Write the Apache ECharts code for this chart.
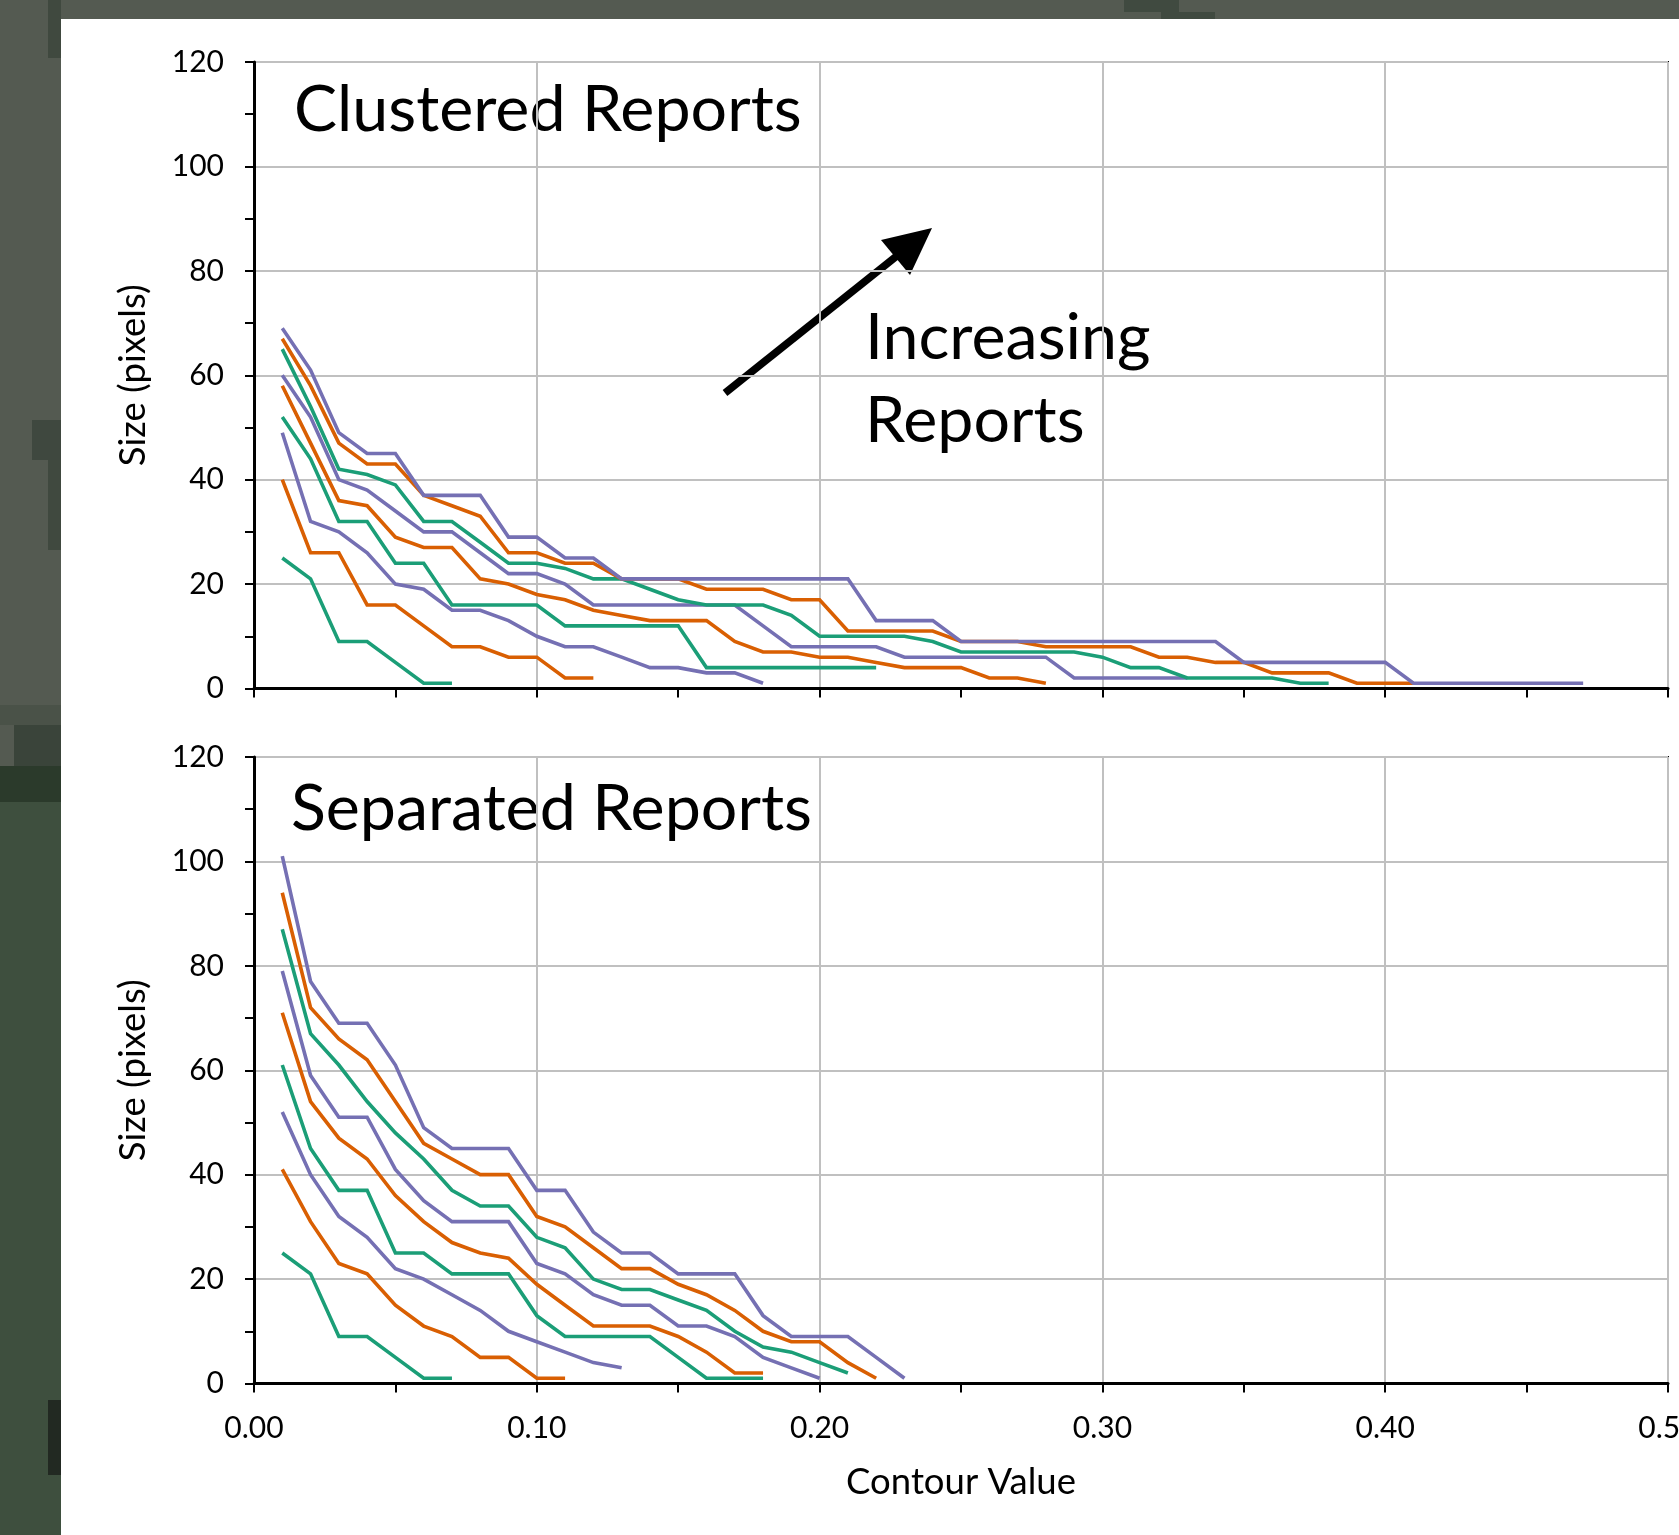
<!DOCTYPE html>
<html>
<head>
<meta charset="utf-8">
<script src="https://cdn.jsdelivr.net/npm/echarts@6/dist/echarts.min.js"></script>
<style>
  html, body { margin: 0; padding: 0; }
  body { width: 1679px; height: 1535px; overflow: hidden; background: #545a51; position: relative; }
  .bg { position: absolute; }
  #paper { position: absolute; left: 61px; top: 19px; right: 0; bottom: 0; background: #ffffff; }
  #chart { position: absolute; left: 0; top: 0; width: 1679px; height: 1535px; }
</style>
</head>
<body>
<div class="bg" style="left:0;top:766px;width:61px;height:36px;background:#2b3a2b;"></div>
<div class="bg" style="left:0;top:802px;width:61px;height:733px;background:#3e4f3e;"></div>
<div class="bg" style="left:32px;top:420px;width:29px;height:40px;background:#3f483f;"></div>
<div class="bg" style="left:48px;top:0;width:13px;height:58px;background:#40493f;"></div>
<div class="bg" style="left:48px;top:460px;width:13px;height:90px;background:#40493f;"></div>
<div class="bg" style="left:0;top:705px;width:61px;height:20px;background:#4a5248;"></div>
<div class="bg" style="left:14px;top:725px;width:47px;height:41px;background:#3a443a;"></div>
<div class="bg" style="left:48px;top:1400px;width:13px;height:75px;background:#222922;"></div>
<div class="bg" style="left:1124px;top:0;width:55px;height:12px;background:#404a40;"></div>
<div class="bg" style="left:1161px;top:12px;width:54px;height:8px;background:#404a40;"></div>
<div id="paper"></div>
<div id="chart"></div>
<script>
// ---- data ----
const CONTOUR = [0.01,0.02,0.03,0.04,0.05,0.06,0.07,0.08,0.09,0.10,
                 0.11,0.12,0.13,0.14,0.15,0.16,0.17,0.18,0.19,0.20,
                 0.21,0.22,0.23,0.24,0.25,0.26,0.27,0.28,0.29,0.30,
                 0.31,0.32,0.33,0.34,0.35,0.36,0.37,0.38,0.39,0.40,
                 0.41,0.42,0.43,0.44,0.45,0.46,0.47];

const X_TICK_LABELS = ['0.00','0.10','0.20','0.30','0.40','0.50'];
const Y_TICK_LABELS = ['0','20','40','60','80','100','120'];

// Clustered Reports
const clusteredGreen1  = [25,21,9,9,5,1,1];
const clusteredOrange1 = [40,26,26,16,16,12,8,8,6,6,2,2];
const clusteredPurple1 = [49,32,30,26,20,19,15,15,13,10,8,8,6,4,4,3,3,1];
const clusteredGreen2  = [52,44,32,32,24,24,16,16,16,16,12,12,12,12,12,4,4,4,4,4,4,4];
const clusteredOrange2 = [58,47,36,35,29,27,27,21,20,18,17,15,14,13,13,13,9,7,7,6,6,5,4,4,4,2,2,1];
const clusteredPurple2 = [60,52,40,38,34,30,30,26,22,22,20,16,16,16,16,16,16,12,8,8,8,8,6,6,6,6,6,6,2,2,2,2,2];
const clusteredGreen3  = [65,54,42,41,39,32,32,28,24,24,23,21,21,19,17,16,16,16,14,10,10,10,10,9,7,7,7,7,7,6,4,4,2,2,2,2,1,1];
const clusteredOrange3 = [67,58,47,43,43,37,35,33,26,26,24,24,21,21,21,19,19,19,17,17,11,11,11,11,9,9,9,8,8,8,8,6,6,5,5,3,3,3,1,1,1];
const clusteredPurple3 = [69,61,49,45,45,37,37,37,29,29,25,25,21,21,21,21,21,21,21,21,21,13,13,13,9,9,9,9,9,9,9,9,9,9,5,5,5,5,5,5,1,1,1,1,1,1,1];

// Separated Reports
const separatedGreen1  = [25,21,9,9,5,1,1];
const separatedOrange1 = [41,31,23,21,15,11,9,5,5,1,1];
const separatedPurple1 = [52,40,32,28,22,20,17,14,10,8,6,4,3];
const separatedGreen2  = [61,45,37,37,25,25,21,21,21,13,9,9,9,9,5,1,1,1];
const separatedOrange2 = [71,54,47,43,36,31,27,25,24,19,15,11,11,11,9,6,2,2];
const separatedPurple2 = [79,59,51,51,41,35,31,31,31,23,21,17,15,15,11,11,9,5,3,1];
const separatedGreen3  = [87,67,61,54,48,43,37,34,34,28,26,20,18,18,16,14,10,7,6,4,2];
const separatedOrange3 = [94,72,66,62,54,46,43,40,40,32,30,26,22,22,19,17,14,10,8,8,4,1];
const separatedPurple3 = [101,77,69,69,61,49,45,45,45,37,37,29,25,25,21,21,21,13,9,9,9,5,1];

const TITLE_TOP = 'Clustered Reports';
const TITLE_BOTTOM = 'Separated Reports';
const NOTE_LINES = ['Increasing', 'Reports'];
const X_NAME = 'Contour Value';
const Y_NAME = 'Size (pixels)';

// ---- styling ----
const GREEN = '#1b9e77', ORANGE = '#d95f02', PURPLE = '#7570b3';
const FONT = 'Lato, "Open Sans", sans-serif';

function pts(vals) { return vals.map((v, i) => [CONTOUR[i], v]); }
function line(vals, color, idx) {
  return {
    type: 'line', data: pts(vals), xAxisIndex: idx, yAxisIndex: idx,
    symbol: 'none', silent: true,
    lineStyle: { color: color, width: 3.6, cap: 'butt', join: 'miter' }
  };
}

const topSeries = [
  [clusteredGreen1, GREEN], [clusteredOrange1, ORANGE], [clusteredPurple1, PURPLE],
  [clusteredGreen2, GREEN], [clusteredOrange2, ORANGE], [clusteredPurple2, PURPLE],
  [clusteredGreen3, GREEN], [clusteredOrange3, ORANGE], [clusteredPurple3, PURPLE]
];
const bottomSeries = [
  [separatedGreen1, GREEN], [separatedOrange1, ORANGE], [separatedPurple1, PURPLE],
  [separatedGreen2, GREEN], [separatedOrange2, ORANGE], [separatedPurple2, PURPLE],
  [separatedGreen3, GREEN], [separatedOrange3, ORANGE], [separatedPurple3, PURPLE]
];

function xAxis(idx, showLabels) {
  return {
    type: 'value', gridIndex: idx, min: 0, max: 0.5, interval: 0.1,
    axisLine: { show: true, onZero: false, lineStyle: { color: '#000', width: 3 } },
    axisTick: { show: true, length: 9, lineStyle: { color: '#000', width: 2 } },
    minorTick: { show: true, splitNumber: 2, length: 9, lineStyle: { color: '#000', width: 2 } },
    splitLine: { show: true, lineStyle: { color: '#c0c0c0', width: 2 } },
    axisLabel: {
      show: showLabels, color: '#000', fontSize: 30, fontFamily: FONT, margin: 30,
      showMinLabel: true, showMaxLabel: true, hideOverlap: false,
      formatter: v => X_TICK_LABELS[Math.round(v * 10)] || ''
    },
    name: showLabels ? X_NAME : '', nameLocation: 'middle', nameGap: 80,
    nameTextStyle: { color: '#000', fontSize: 36.5, fontFamily: FONT }
  };
}
function yAxis(idx) {
  return {
    type: 'value', gridIndex: idx, min: 0, max: 120, interval: 20,
    axisLine: { show: true, lineStyle: { color: '#000', width: 3 } },
    axisTick: { show: true, length: 9, lineStyle: { color: '#000', width: 2 } },
    minorTick: { show: true, splitNumber: 2, length: 9, lineStyle: { color: '#000', width: 2 } },
    splitLine: { show: true, lineStyle: { color: '#c0c0c0', width: 2 } },
    axisLabel: {
      color: '#000', fontSize: 30, fontFamily: FONT, margin: 30,
      formatter: v => Y_TICK_LABELS[Math.round(v / 20)] || ''
    },
    name: Y_NAME, nameLocation: 'middle', nameGap: 102, nameRotate: 90,
    nameTextStyle: { color: '#000', fontSize: 36.5, fontFamily: FONT }
  };
}

const chart = echarts.init(document.getElementById('chart'), null, { renderer: 'canvas' });

const gridBase = { left: 254, width: 1414, height: 626.5, show: true, borderColor: '#000', borderWidth: 2,
  backgroundColor: 'transparent', containLabel: false, outerBoundsMode: 'none' };

const option = {
  animation: false,
  backgroundColor: 'transparent',
  grid: [
    Object.assign({ top: 62 }, gridBase),
    Object.assign({ top: 757 }, gridBase)
  ],
  xAxis: [xAxis(0, false), xAxis(1, true)],
  yAxis: [yAxis(0), yAxis(1)],
  series: topSeries.map(s => line(s[0], s[1], 0)).concat(bottomSeries.map(s => line(s[0], s[1], 1))),
  graphic: [
    { type: 'text', x: 294, y: 110, silent: true,
      style: { text: TITLE_TOP, fill: '#000', fontSize: 64.5, fontFamily: FONT, verticalAlign: 'middle' } },
    { type: 'text', x: 291, y: 809, silent: true,
      style: { text: TITLE_BOTTOM, fill: '#000', fontSize: 64.5, fontFamily: FONT, verticalAlign: 'middle' } },
    { type: 'text', x: 865, y: 338, silent: true,
      style: { text: NOTE_LINES[0], fill: '#000', fontSize: 64.5, fontFamily: FONT, verticalAlign: 'middle' } },
    { type: 'text', x: 865, y: 421, silent: true,
      style: { text: NOTE_LINES[1], fill: '#000', fontSize: 64.5, fontFamily: FONT, verticalAlign: 'middle' } },
    { type: 'line', silent: true,
      shape: { x1: 725, y1: 393, x2: 898, y2: 255 },
      style: { stroke: '#000', lineWidth: 7.5 } },
    { type: 'polygon', silent: true,
      shape: { points: [[932, 228], [881, 240], [910, 275]] },
      style: { fill: '#000' } }
  ]
};
chart.setOption(option);
</script>
</body>
</html>
